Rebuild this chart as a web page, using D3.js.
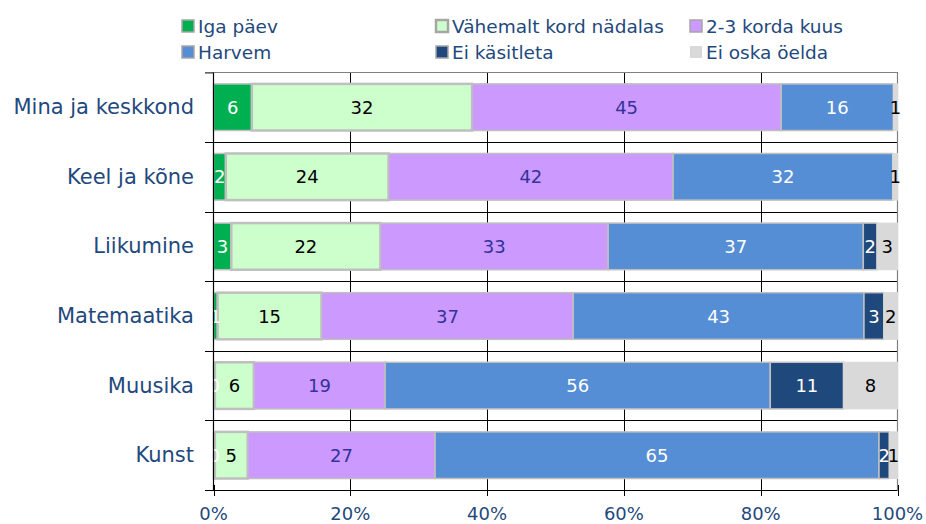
<!DOCTYPE html>
<html>
<head>
<meta charset="utf-8">
<script src="https://cdn.jsdelivr.net/npm/d3@7"></script>
<style>
  html, body { margin: 0; padding: 0; background: #fff; }
  svg { display: block; }
  text { font-family: "DejaVu Sans", Verdana, sans-serif; }
</style>
</head>
<body>
<svg id="chart" width="926" height="524"></svg>
<script>
// ---- data ----
const categories = ["Mina ja keskkond", "Keel ja kõne", "Liikumine", "Matemaatika", "Muusika", "Kunst"];
const seriesNames = ["Iga päev", "Vähemalt kord nädalas", "2-3 korda kuus", "Harvem", "Ei käsitleta", "Ei oska öelda"];
const igaPaev     = [5.6, 1.8, 2.6, 0.6, 0.2, 0.2];
const vahemalt    = [32.2, 23.8, 21.8, 15.2, 5.7, 4.8];
const kordaKuus   = [45.2, 41.6, 33.3, 36.8, 19.2, 27.4];
const harvem      = [16.4, 32.1, 37.3, 42.5, 56.3, 64.9];
const eiKasitleta = [0, 0, 2.0, 2.9, 10.7, 1.5];
const eiOska      = [0.6, 0.7, 3.0, 2.0, 7.9, 1.2];
const xTickValues = [0, 0.2, 0.4, 0.6, 0.8, 1.0];

const seriesValues = [igaPaev, vahemalt, kordaKuus, harvem, eiKasitleta, eiOska];
const colors      = ["#00b050", "#ccffcc", "#cc99ff", "#558ed5", "#1f497d", "#d9d9d9"];
const strokes     = ["#bfbfbf", "#bfbfbf", "#bfbfbf", "#bfbfbf", "#bfbfbf", "#d9d9d9"];
const strokeW     = [1.5, 2.5, 1.5, 1.5, 1.5, 1];
const labelColors = ["#ffffff", "#000000", "#333399", "#ffffff", "#ffffff", "#000000"];

const rows = categories.map((c, i) => {
  const o = { cat: c };
  seriesNames.forEach((s, j) => { o[s] = seriesValues[j][i]; });
  return o;
});

const svg = d3.select("#chart");
const textColor = "#1f497d";

const x = d3.scaleLinear().domain([0, 1]).range([213.5, 897.5]);
const y = d3.scaleBand().domain(categories).range([72.4, 490]).paddingInner(0.33).paddingOuter(0.165);

const stack = d3.stack().keys(seriesNames).offset(d3.stackOffsetExpand);
const stacked = stack(rows);

// ---- grid ----
const grid = svg.append("g");
grid.selectAll("line.v").data(xTickValues.slice(1, -1)).join("line")
  .attr("x1", d => Math.round(x(d)) + 0.5).attr("x2", d => Math.round(x(d)) + 0.5)
  .attr("y1", 72.4).attr("y2", 490)
  .attr("stroke", "#000").attr("stroke-width", 1);
const bounds = categories.map((c, i) => y.range()[0] + y.step() * i).slice(1);
grid.selectAll("line.h").data(bounds).join("line")
  .attr("x1", 205).attr("x2", 897.5)
  .attr("y1", d => Math.round(d) + 0.5).attr("y2", d => Math.round(d) + 0.5)
  .attr("stroke", "#000").attr("stroke-width", 1);
grid.append("path")
  .attr("d", `M${x(0)},72.5 H${897.5} V490`)
  .attr("fill", "none").attr("stroke", "#808080").attr("stroke-width", 1.2);

// ---- bars ----
const layers = svg.append("g").selectAll("g.layer").data(stacked).join("g")
  .attr("fill", (d, i) => colors[i])
  .attr("stroke", (d, i) => strokes[i])
  .attr("stroke-width", (d, i) => strokeW[i]);

layers.selectAll("rect").data(d => d.filter(p => p[1] - p[0] > 0)).join("rect")
  .attr("x", p => x(p[0]))
  .attr("width", p => Math.max(0, x(p[1]) - x(p[0])))
  .attr("y", p => y(p.data.cat))
  .attr("height", y.bandwidth());

// ---- value labels ----
const labG = svg.append("g");
stacked.forEach((layer, i) => {
  labG.selectAll(null).data(layer.filter(p => p.data[seriesNames[i]] > 0)).join("text")
    .attr("x", p => (x(p[0]) + x(p[1])) / 2)
    .attr("y", p => y(p.data.cat) + y.bandwidth() / 2)
    .attr("text-anchor", "middle")
    .attr("dominant-baseline", "central")
    .attr("font-size", 18)
    .attr("fill", labelColors[i])
    .text(p => Math.round(p.data[seriesNames[i]]));
});

// ---- axes ----
const axG = svg.append("g");
axG.append("line").attr("x1", 213.5).attr("x2", 213.5).attr("y1", 72.4).attr("y2", 490)
  .attr("stroke", "#000").attr("stroke-width", 1.2);
axG.append("line").attr("x1", 205).attr("x2", 213.5).attr("y1", 72.9).attr("y2", 72.9)
  .attr("stroke", "#000").attr("stroke-width", 1);
axG.append("line").attr("x1", 205).attr("x2", 897.5).attr("y1", 490.5).attr("y2", 490.5)
  .attr("stroke", "#000").attr("stroke-width", 1.2);
axG.selectAll("line.xt").data(xTickValues).join("line")
  .attr("x1", d => Math.round(x(d)) + 0.5).attr("x2", d => Math.round(x(d)) + 0.5)
  .attr("y1", 485).attr("y2", 496)
  .attr("stroke", "#000").attr("stroke-width", 1);
axG.selectAll("text.xl").data(xTickValues).join("text")
  .attr("x", d => x(d))
  .attr("y", 520)
  .attr("text-anchor", "middle")
  .attr("font-size", 18)
  .attr("fill", textColor)
  .text(d => d3.format(".0%")(d));

axG.selectAll("text.cl").data(categories).join("text")
  .attr("x", 194)
  .attr("y", d => y(d) + y.bandwidth() / 2)
  .attr("text-anchor", "end")
  .attr("dominant-baseline", "central")
  .attr("font-size", 21)
  .attr("fill", textColor)
  .text(d => d);

// ---- legend ----
const legX = [182, 436, 690];
const legY = [20, 46];
const leg = svg.append("g").selectAll("g").data(seriesNames).join("g")
  .attr("transform", (d, i) => `translate(${legX[i % 3]},${legY[Math.floor(i / 3)]})`);
leg.append("rect")
  .attr("width", 12).attr("height", 12)
  .attr("fill", (d, i) => colors[i])
  .attr("stroke", (d, i) => i === 5 ? "none" : "#a6a6a6")
  .attr("stroke-width", (d, i) => i === 1 ? 2.5 : 1.5);
leg.append("text")
  .attr("x", 16).attr("y", 6.5)
  .attr("dominant-baseline", "central")
  .attr("font-size", 18.5)
  .attr("fill", textColor)
  .text(d => d);
</script>
</body>
</html>
